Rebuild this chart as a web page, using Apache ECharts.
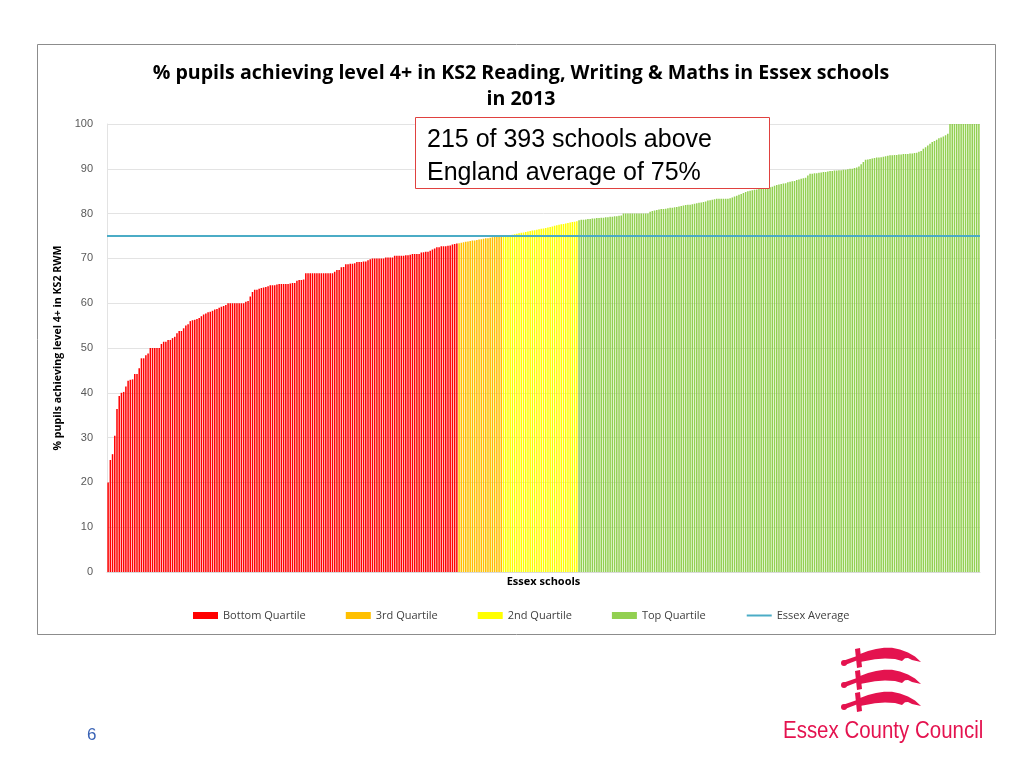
<!DOCTYPE html>
<html>
<head>
<meta charset="utf-8">
<script src="https://cdn.jsdelivr.net/npm/echarts@6/dist/echarts.min.js"></script>
<style>
html,body{margin:0;padding:0;background:#fff;}
#chart{width:1024px;height:768px;}
</style>
</head>
<body>
<div id="chart"></div>
<script>
// ---- Data ----
const bottomQuartile = [
  20, 25, 26.3, 30.4, 36.4, 39.3, 40, 40.2, 41.4, 42.7,
  42.9, 43, 44.2, 44.2, 45.5, 47.7, 47.7, 48.4, 48.8, 50,
  50, 50, 50, 50, 50.9, 51.4, 51.4, 51.8, 51.8, 52.2,
  52.5, 53.3, 53.8, 53.8, 54.4, 55, 55.3, 56, 56.2, 56.3,
  56.5, 56.7, 57.1, 57.5, 57.7, 58, 58.1, 58.3, 58.6, 58.7,
  59, 59.2, 59.4, 59.6, 60, 60, 60, 60, 60, 60,
  60, 60, 60.3, 60.5, 61.5, 62.5, 63, 63, 63.2, 63.4,
  63.5, 63.6, 63.8, 64, 64, 64, 64.2, 64.3, 64.3, 64.3,
  64.3, 64.3, 64.4, 64.5, 64.5, 65, 65.2, 65.2, 65.3, 66.7,
  66.7, 66.7, 66.7, 66.7, 66.7, 66.7, 66.7, 66.7, 66.7, 66.7,
  66.7, 66.7, 67, 67.4, 67.4, 68, 68.1, 68.7, 68.7, 68.8,
  68.8, 68.9, 69.2, 69.2, 69.2, 69.3, 69.3, 69.6, 69.8, 70,
  70, 70, 70, 70, 70, 70.2, 70.2, 70.2, 70.2, 70.6,
  70.6, 70.6, 70.6, 70.6, 70.7, 70.7, 70.8, 71, 71, 71,
  71, 71.3, 71.4, 71.5, 71.5, 71.7, 72, 72.2, 72.5, 72.5,
  72.7, 72.7, 72.7, 72.8, 72.9, 73.1, 73.2, 73.3
];
const thirdQuartile = [
  73.4, 73.5, 73.6, 73.7, 73.8, 73.9, 74, 74, 74.1, 74.2,
  74.3, 74.4, 74.5, 74.5, 74.6, 74.7, 74.8, 74.8, 74.9, 74.9
];
const secondQuartile = [
  75, 75, 75.1, 75.2, 75.3, 75.4, 75.5, 75.6, 75.7, 75.8,
  75.9, 76, 76.1, 76.2, 76.3, 76.4, 76.5, 76.6, 76.7, 76.8,
  76.9, 77, 77.1, 77.3, 77.4, 77.5, 77.6, 77.7, 77.8, 77.9,
  78, 78.1, 78.2, 78.3
];
const topQuartile = [
  78.5, 78.6, 78.6, 78.7, 78.8, 78.8, 78.9, 78.9, 79, 79,
  79.1, 79.1, 79.2, 79.2, 79.3, 79.3, 79.4, 79.4, 79.5, 79.6,
  80, 80, 80, 80, 80, 80, 80, 80, 80, 80,
  80, 80, 80.4, 80.6, 80.7, 80.8, 80.9, 81, 81, 81.1,
  81.2, 81.3, 81.3, 81.4, 81.5, 81.6, 81.7, 81.8, 81.9, 82,
  82, 82.1, 82.2, 82.3, 82.4, 82.5, 82.6, 82.7, 82.9, 83,
  83.1, 83.2, 83.3, 83.3, 83.3, 83.3, 83.3, 83.3, 83.4, 83.6,
  83.8, 84, 84.2, 84.4, 84.6, 84.8, 85, 85.1, 85.2, 85.3,
  85.4, 85.5, 85.6, 85.7, 85.7, 85.8, 85.9, 86, 86.2, 86.4,
  86.5, 86.6, 86.7, 86.8, 87, 87.1, 87.2, 87.3, 87.5, 87.6,
  87.8, 87.9, 88, 88.5, 88.9, 88.9, 89, 89, 89.1, 89.2,
  89.3, 89.3, 89.4, 89.5, 89.5, 89.6, 89.6, 89.7, 89.7, 89.8,
  89.8, 89.9, 90, 90, 90.2, 90.3, 90.5, 91, 91.5, 92,
  92.1, 92.2, 92.3, 92.4, 92.5, 92.5, 92.6, 92.7, 92.8, 92.9,
  93, 93, 93.1, 93.1, 93.2, 93.2, 93.3, 93.3, 93.3, 93.4,
  93.4, 93.5, 93.6, 93.8, 94, 94.5, 94.8, 95.2, 95.6, 96,
  96.2, 96.5, 96.8, 97, 97.2, 97.5, 97.8,
  100, 100, 100, 100, 100, 100, 100, 100, 100, 100,
  100, 100, 100, 100
];
const essexAverage = 75;
const seriesNames = ['Bottom Quartile', '3rd Quartile', '2nd Quartile', 'Top Quartile', 'Essex Average'];
const yTicks = [0, 10, 20, 30, 40, 50, 60, 70, 80, 90, 100];

// ---- Build category axis & padded series ----
const groups = [bottomQuartile, thirdQuartile, secondQuartile, topQuartile];
const total = groups.reduce((s, g) => s + g.length, 0);
const categories = [];
for (let i = 0; i < total; i++) categories.push('School ' + (i + 1));
const colors = ['#ff0000', '#ffc000', '#ffff00', '#92d050'];
let offset = 0;
const barSeries = groups.map((g, k) => {
  const data = new Array(total).fill('-');
  g.forEach((v, j) => { data[offset + j] = v; });
  offset += g.length;
  return {
    name: seriesNames[k], type: 'bar', stack: 'schools', data: data,
    itemStyle: { color: colors[k] }, barCategoryGap: '32%', silent: true
  };
});

const FONT = '"Open Sans", sans-serif';
const RED = '#e4134f';
const chart = echarts.init(document.getElementById('chart'), null, { renderer: 'canvas' });

// sword shape (local coords), drawn as polygons
function swordGroup(x, y) {
  return {
    type: 'group', x: x, y: y, children: [
      { type: 'polygon', shape: { points: [[20,8],[28,5],[36,3],[44,1.8],[52,1.8],[60,3.5],[68,6.5],[75,10.5],[81,16],[72,14],[68,12],[65,12.2],[62,15],[55,13],[45,12.5],[35,13.3],[20,16]] }, style: { fill: RED } },
      { type: 'polygon', shape: { points: [[15,3],[20,2],[22,21],[17,22]] }, style: { fill: RED } },
      { type: 'polygon', shape: { points: [[4,14.5],[17,10],[18,14],[5,19]] }, style: { fill: RED } },
      { type: 'circle', shape: { cx: 4, cy: 17, r: 3 }, style: { fill: RED } }
    ]
  };
}

const option = {
  backgroundColor: '#ffffff',
  animation: false,
  title: {
    text: '% pupils achieving level 4+ in KS2 Reading, Writing & Maths in Essex schools\nin 2013',
    left: 516, top: 55, textAlign: 'center',
    textStyle: { fontFamily: FONT, fontWeight: 'bold', fontSize: 19.6, color: '#000', lineHeight: 26 }
  },
  legend: {
    left: 188, top: 605,
    itemWidth: 25, itemHeight: 7, itemGap: 40,
    textStyle: { fontFamily: FONT, fontSize: 11, color: '#404040' },
    data: [
      { name: 'Bottom Quartile', icon: 'rect' },
      { name: '3rd Quartile', icon: 'rect' },
      { name: '2nd Quartile', icon: 'rect' },
      { name: 'Top Quartile', icon: 'rect' },
      { name: 'Essex Average', itemStyle: { opacity: 0 } }
    ]
  },
  grid: { left: 107, right: 44, top: 124, bottom: 196, containLabel: false },
  xAxis: {
    type: 'category', data: categories,
    name: 'Essex schools', nameLocation: 'middle', nameGap: 4,
    nameTextStyle: { fontFamily: FONT, fontWeight: 'bold', fontSize: 11, color: '#000' },
    axisLine: { show: true, lineStyle: { color: '#d9d9d9' } },
    axisTick: { show: false }, axisLabel: { show: false }
  },
  yAxis: {
    type: 'value', min: yTicks[0], max: yTicks[yTicks.length - 1], interval: 10,
    name: '% pupils achieving level 4+ in KS2 RWM', nameLocation: 'middle', nameGap: 40,
    nameTextStyle: { fontFamily: FONT, fontWeight: 'bold', fontSize: 10.6, color: '#000' },
    axisLine: { show: true, lineStyle: { color: '#e3e3e3' } },
    axisTick: { show: false },
    axisLabel: { fontFamily: '"Liberation Sans", sans-serif', fontSize: 11, color: '#595959', margin: 14 },
    splitLine: { lineStyle: { color: '#e3e3e3' } }
  },
  series: barSeries.concat([{
    name: 'Essex Average', type: 'line', data: [], symbol: 'none', showSymbol: false,
    color: '#4bacc6', lineStyle: { color: '#4bacc6', width: 2 },
    markLine: {
      silent: true, symbol: 'none', label: { show: false },
      lineStyle: { color: '#4bacc6', width: 2, type: 'solid' },
      data: [{ yAxis: essexAverage }]
    }
  }]),
  graphic: [
    { type: 'rect', shape: { x: 37.5, y: 44.5, width: 958, height: 590 }, style: { fill: 'none', stroke: '#8c8c8c', lineWidth: 1 }, z: -1 },
    { type: 'rect', shape: { x: 415.5, y: 117.5, width: 354, height: 71 }, style: { fill: '#ffffff', stroke: '#e0413f', lineWidth: 1 }, z: 100 },
    { type: 'text', x: 427, y: 124, z: 101, style: { text: '215 of 393 schools above\nEngland average of 75%', fontFamily: '"Liberation Sans", Arial, sans-serif', fontSize: 25, lineHeight: 33, fill: '#000' } },
    { type: 'text', x: 87, y: 727, style: { text: '6', fontFamily: '"Liberation Sans", Arial, sans-serif', fontSize: 17, fill: '#3a63b5' } },
    swordGroup(840, 646),
    swordGroup(840, 668),
    swordGroup(840, 690),
    { type: 'text', x: 783, y: 720, scaleX: 0.89, style: { text: 'Essex County Council', fontFamily: '"Liberation Sans", Arial, sans-serif', fontSize: 23, fill: RED } }
  ]
};
chart.setOption(option);
</script>
</body>
</html>
